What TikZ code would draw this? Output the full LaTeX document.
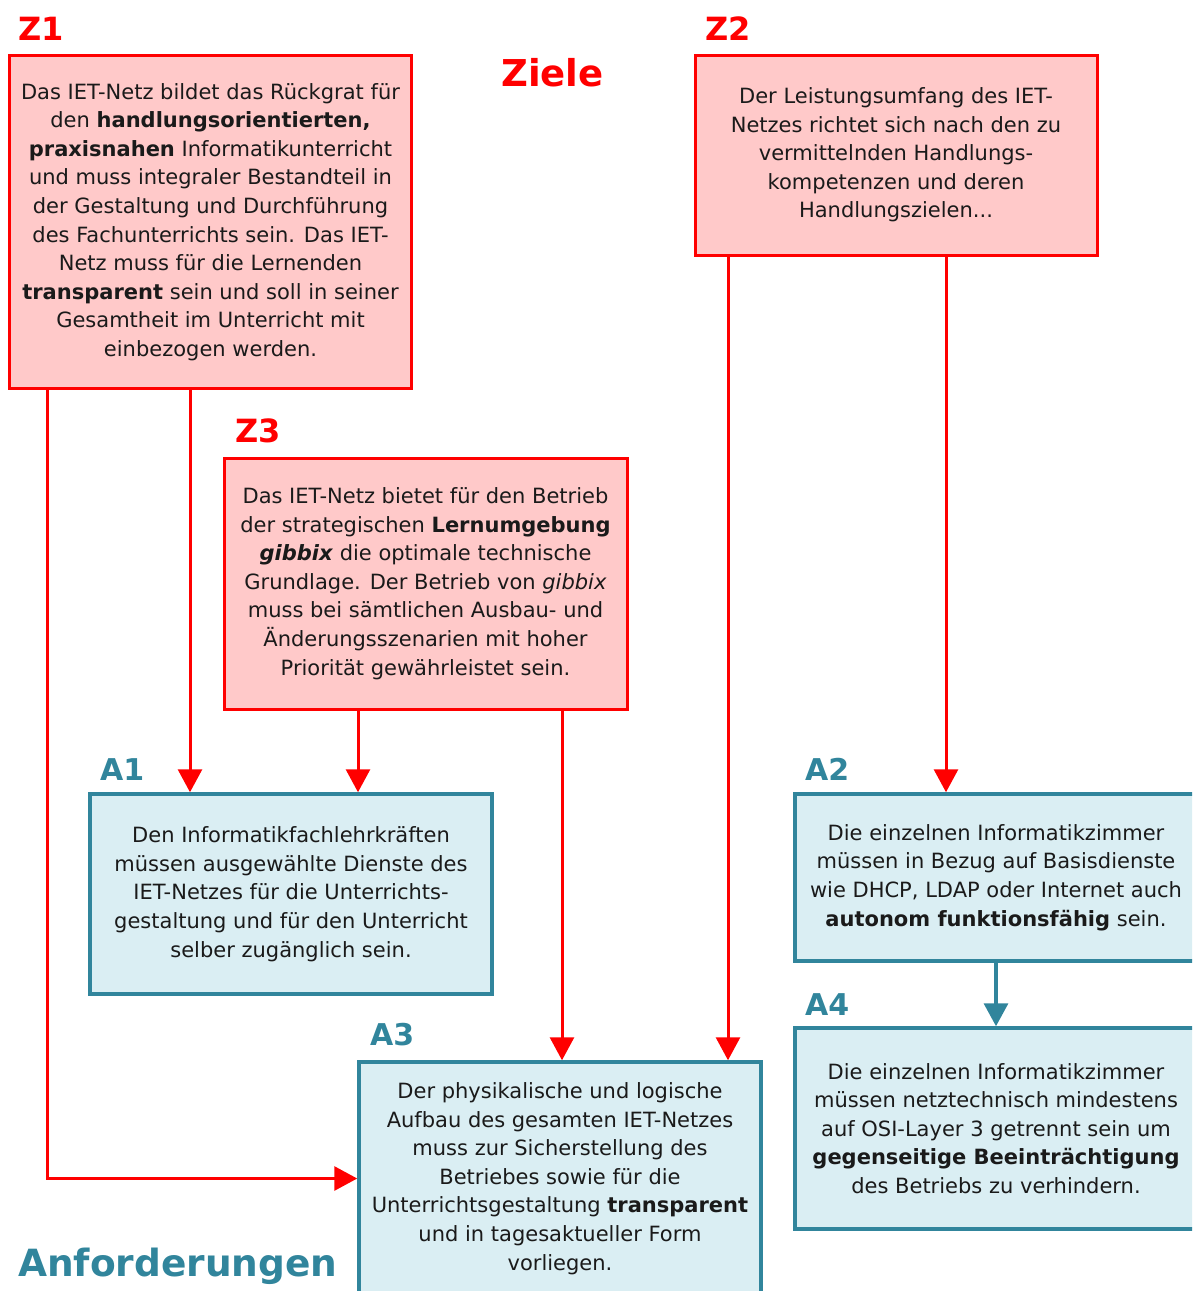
\documentclass[tikz,border=0pt]{standalone}
\usepackage{fontspec}
\setmainfont{DejaVu Sans}
\usetikzlibrary{arrows.meta}
\definecolor{zred}{HTML}{FF0000}
\definecolor{zfill}{HTML}{FFC9C9}
\definecolor{ateal}{HTML}{31859C}
\definecolor{afill}{HTML}{DAEEF3}
\definecolor{txt}{HTML}{1A1A1A}
\begin{document}
\begin{tikzpicture}[x=1pt,y=-1pt,
  body/.style={font=\fontsize{21}{28.6}\selectfont, align=center, inner sep=0pt, text=txt},
  zbox/.style={body, draw=zred, fill=zfill, line width=3pt, rectangle},
  abox/.style={body, draw=ateal, fill=afill, line width=3.5pt, rectangle},
  zlab/.style={font=\fontsize{32}{36}\selectfont\bfseries, text=zred, anchor=base west, inner sep=0pt},
  alab/.style={font=\fontsize{30}{34}\selectfont\bfseries, text=ateal, anchor=base west, inner sep=0pt},
  rarrow/.style={draw=zred, line width=3pt, -{Triangle[width=24pt,length=23pt]}},
  tarrow/.style={draw=ateal, line width=3.5pt, -{Triangle[width=24pt,length=23pt]}}]
\useasboundingbox (0,0) rectangle (1192,1291);
\clip (0,0) rectangle (1192,1291);

% Ziele boxes
\node[zbox, minimum width=402pt, minimum height=333pt] (Z1) at (210.5,222)
 {Das IET-Netz bildet das Rückgrat für\\
  den \textbf{handlungsorientierten,}\\
  \textbf{praxisnahen} Informatikunterricht\\
  und muss integraler Bestandteil in\\
  der Gestaltung und Durchführung\\
  des Fachunterrichts sein. Das IET-\\
  Netz muss für die Lernenden\\
  \textbf{transparent} sein und soll in seiner\\
  Gesamtheit im Unterricht mit\\
  einbezogen werden.};
\node[zbox, minimum width=402pt, minimum height=200pt] (Z2) at (896,155)
 {Der Leistungsumfang des IET-\\
  Netzes richtet sich nach den zu\\
  vermittelnden Handlungs-\\
  kompetenzen und deren\\
  Handlungszielen...};
\node[zbox, minimum width=403pt, minimum height=251pt] (Z3) at (425.5,583.5)
 {Das IET-Netz bietet für den Betrieb\\
  der strategischen \textbf{Lernumgebung}\\
  \textbf{\textit{gibbix}} die optimale technische\\
  Grundlage. Der Betrieb von \textit{gibbix}\\
  muss bei sämtlichen Ausbau- und\\
  Änderungsszenarien mit hoher\\
  Priorität gewährleistet sein.};

% Anforderungen boxes
\node[abox, minimum width=402pt, minimum height=200pt] (A1) at (291,894)
 {Den Informatikfachlehrkräften\\
  müssen ausgewählte Dienste des\\
  IET-Netzes für die Unterrichts-\\
  gestaltung und für den Unterricht\\
  selber zugänglich sein.};
\node[abox, minimum width=402pt, minimum height=167pt] (A2) at (996,877.5)
 {Die einzelnen Informatikzimmer\\
  müssen in Bezug auf Basisdienste\\
  wie DHCP, LDAP oder Internet auch\\
  \textbf{autonom funktionsfähig} sein.};
\node[abox, minimum width=402pt, minimum height=201pt] (A4) at (996,1128.5)
 {Die einzelnen Informatikzimmer\\
  müssen netztechnisch mindestens\\
  auf OSI-Layer 3 getrennt sein um\\
  \textbf{gegenseitige Beeinträchtigung}\\
  des Betriebs zu verhindern.};
\node[abox, minimum width=402pt, minimum height=233pt] (A3) at (560,1178.5)
 {Der physikalische und logische\\
  Aufbau des gesamten IET-Netzes\\
  muss zur Sicherstellung des\\
  Betriebes sowie für die\\
  Unterrichtsgestaltung \textbf{transparent}\\
  und in tagesaktueller Form\\
  vorliegen.};

% labels
\node[zlab] (lz1) at (18,40) {Z1};
\node[zlab] (lz2) at (705,40) {Z2};
\node[zlab] (lz3) at (235,442) {Z3};
\node[zlab, font=\fontsize{37}{40}\selectfont\bfseries] (ziele) at (501,86) {Ziele};
\node[alab] (la1) at (100,780) {A1};
\node[alab] (la2) at (805,780) {A2};
\node[alab] (la4) at (805,1015) {A4};
\node[alab] (la3) at (370,1045) {A3};
\node[alab, font=\fontsize{37.5}{42}\selectfont\bfseries] (anf) at (18,1276) {Anforderungen};

% connectors
\coordinate (xa) at (47,0);
\coordinate (xb) at (190,0);
\coordinate (xc) at (358,0);
\coordinate (xd) at (562,0);
\coordinate (xe) at (728,0);
\coordinate (xf) at (946,0);
\draw[rarrow] (Z1.south -| xa) |- (A3.west);
\draw[rarrow] (Z1.south -| xb) -- (A1.north -| xb);
\draw[rarrow] (Z3.south -| xc) -- (A1.north -| xc);
\draw[rarrow] (Z3.south -| xd) -- (A3.north -| xd);
\draw[rarrow] (Z2.south -| xe) -- (A3.north -| xe);
\draw[rarrow] (Z2.south -| xf) -- (A2.north -| xf);
\draw[tarrow] (A2.south) -- (A4.north);
\end{tikzpicture}
\end{document}
